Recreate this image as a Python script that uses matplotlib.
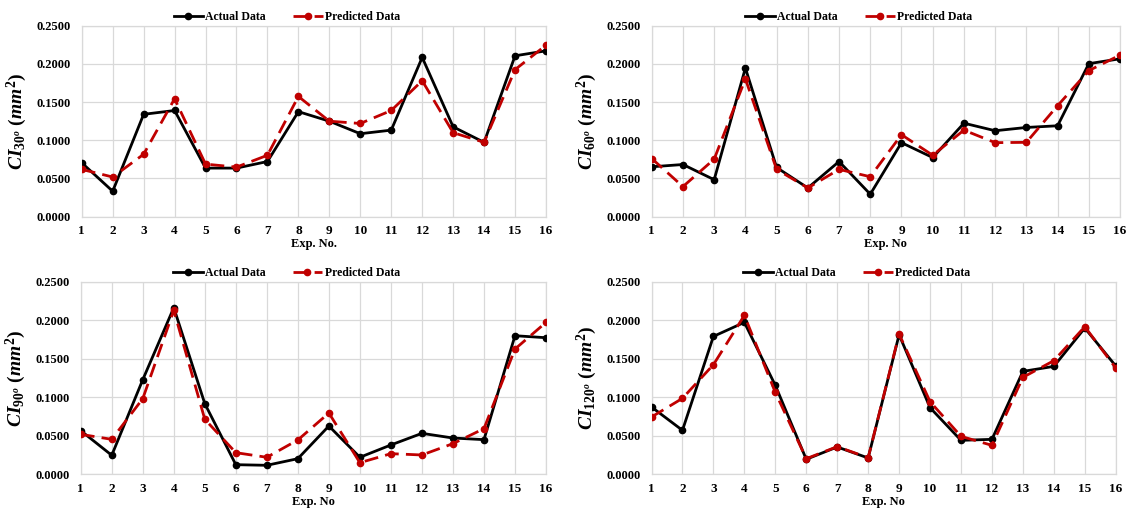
import matplotlib
matplotlib.use("Agg")
import matplotlib.pyplot as plt

plt.rcParams["font.family"] = "Liberation Serif"
plt.rcParams["font.weight"] = "bold"
plt.rcParams["mathtext.fontset"] = "custom"
plt.rcParams["mathtext.rm"] = "Liberation Serif:bold"
plt.rcParams["mathtext.it"] = "Liberation Serif:italic:bold"
plt.rcParams["mathtext.bf"] = "Liberation Serif:bold"

exp_no = list(range(1, 17))

actual_30 = [0.0705, 0.0333, 0.1340, 0.1390, 0.0636, 0.0636, 0.0722, 0.1375,
             0.1250, 0.1086, 0.1133, 0.2085, 0.1176, 0.0973, 0.2106, 0.2171]
pred_30 = [0.0619, 0.0519, 0.0817, 0.1544, 0.0688, 0.0649, 0.0804, 0.1574,
           0.1250, 0.1220, 0.1390, 0.1780, 0.1100, 0.0973, 0.1925, 0.2245]

actual_60 = [0.0653, 0.0683, 0.0484, 0.1946, 0.0644, 0.0376, 0.0722, 0.0294,
             0.0969, 0.0774, 0.1224, 0.1125, 0.1168, 0.1190, 0.2003, 0.2067]
pred_60 = [0.0761, 0.0394, 0.0753, 0.1804, 0.0619, 0.0376, 0.0619, 0.0523,
           0.1073, 0.0804, 0.1133, 0.0969, 0.0973, 0.1453, 0.1912, 0.2115]

actual_90 = [0.0567, 0.0247, 0.1228, 0.2163, 0.0917, 0.0125, 0.0117, 0.0203,
             0.0627, 0.0221, 0.0381, 0.0532, 0.0471, 0.0450, 0.1799, 0.1773]
pred_90 = [0.0519, 0.0454, 0.0982, 0.2128, 0.0714, 0.0281, 0.0221, 0.0446,
           0.0796, 0.0151, 0.0268, 0.0251, 0.0398, 0.0593, 0.1626, 0.1972]

actual_120 = [0.0874, 0.0571, 0.1790, 0.1972, 0.1155, 0.0195, 0.0355, 0.0212,
              0.1812, 0.0865, 0.0441, 0.0454, 0.1336, 0.1401, 0.1899, 0.1406]
pred_120 = [0.0744, 0.0986, 0.1423, 0.2063, 0.1064, 0.0203, 0.0359, 0.0216,
            0.1821, 0.0943, 0.0493, 0.0376, 0.1259, 0.1475, 0.1916, 0.1380]

yticks = [0.0, 0.05, 0.10, 0.15, 0.20, 0.25]

fig = plt.figure(figsize=(11.26, 5.12), dpi=100)

panels = [
    ([0.0726, 0.5768, 0.4123, 0.3730], actual_30, pred_30, "30", "Exp. No."),
    ([0.5788, 0.5768, 0.4159, 0.3730], actual_60, pred_60, "60", "Exp. No"),
    ([0.0717, 0.0736, 0.4132, 0.3762], actual_90, pred_90, "90", "Exp. No"),
    ([0.5786, 0.0736, 0.4123, 0.3762], actual_120, pred_120, "120", "Exp. No"),
]

for rect, actual, pred, angle, xlab in panels:
    ax = fig.add_axes(rect)
    ax.plot(exp_no, actual, color="black", lw=2, marker="o", ms=4.5,
            label="Actual Data", zorder=3)
    ax.plot(exp_no, pred, color="#c00000", lw=2, ls=(0, (5, 2.6)), marker="o",
            ms=4.5, label="Predicted Data", zorder=4)

    ax.set_xlim(1, 16)
    ax.set_ylim(0, 0.25)
    ax.set_xticks(exp_no)
    ax.set_yticks(yticks)
    ax.set_yticklabels([f"{v:.4f}" for v in yticks])
    ax.tick_params(length=0)
    ax.tick_params(axis="y", pad=8, labelsize=9)
    ax.tick_params(axis="x", pad=6, labelsize=9.5)
    for lbl in ax.get_xticklabels() + ax.get_yticklabels():
        lbl.set_fontweight("bold")

    ax.grid(True, color="#d9d9d9", lw=0.9)
    ax.set_axisbelow(True)
    for sp in ax.spines.values():
        sp.set_color("#d9d9d9")
        sp.set_linewidth(0.9)

    ax.set_xlabel(xlab, fontsize=9, fontweight="bold", labelpad=1)
    ax.set_ylabel(r"$CI_{%s^o}\ (mm^2)$" % angle, fontsize=14, labelpad=5)

    ax.legend(loc="center", bbox_to_anchor=(0.442, 1.047), ncol=2, frameon=False,
              fontsize=8.5, handlelength=2.5, columnspacing=2.3,
              handletextpad=0.2, borderaxespad=0)

fig.savefig("out.png", dpi=100)
